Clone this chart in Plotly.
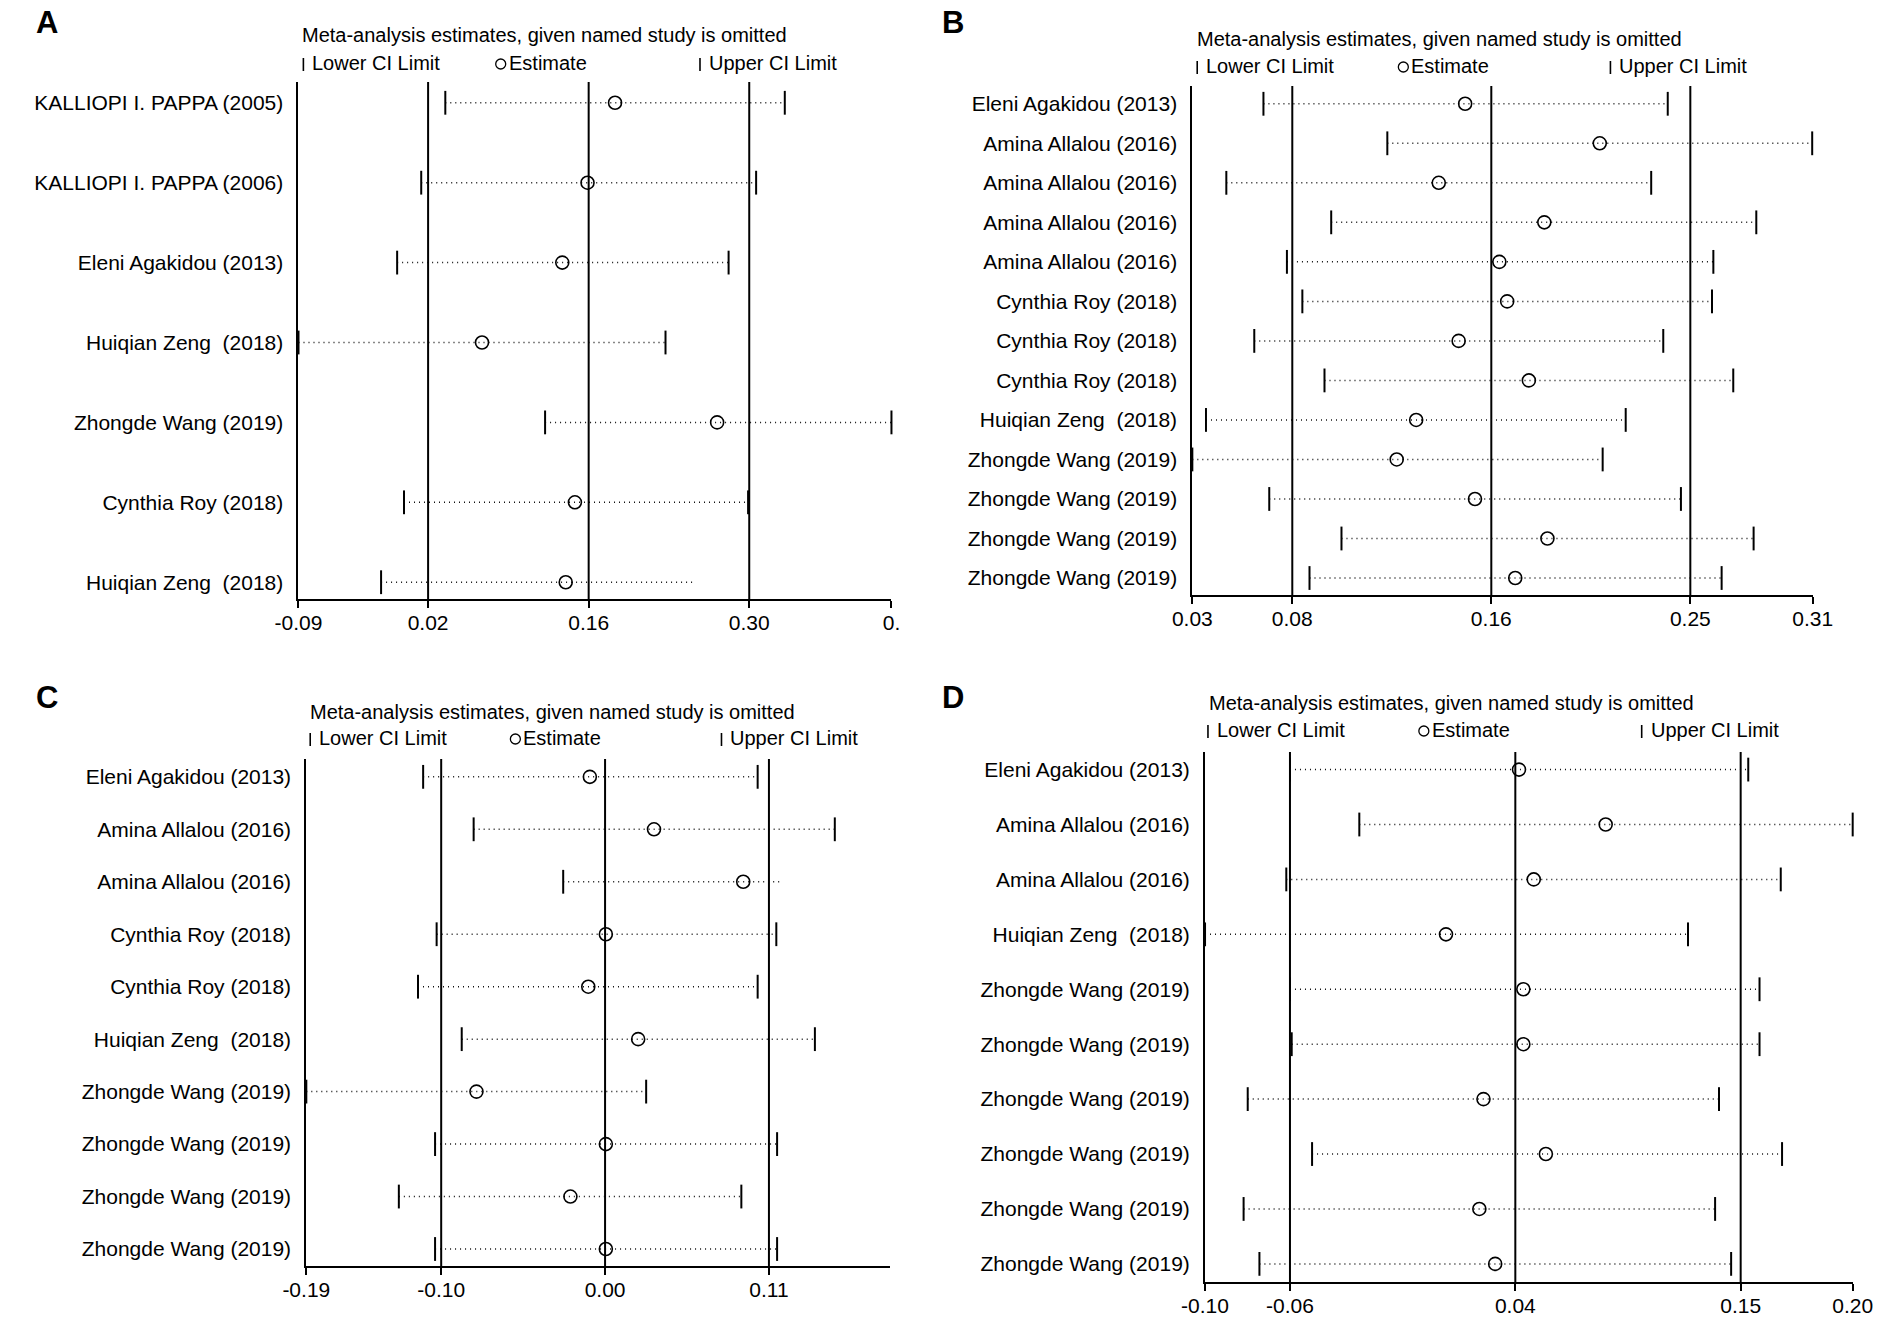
import plotly.graph_objs as go

W = 1902
H = 1321

# ---- panel A ----
a_names = ["KALLIOPI I. PAPPA (2005)", "KALLIOPI I. PAPPA (2006)", "Eleni Agakidou (2013)",
           "Huiqian Zeng\u00a0 (2018)", "Zhongde Wang (2019)", "Cynthia Roy (2018)",
           "Huiqian Zeng\u00a0 (2018)"]
a_lower = [0.035, 0.014, -0.007, -0.093, 0.122, -0.001, -0.021]
a_est = [0.183, 0.159, 0.137, 0.067, 0.272, 0.148, 0.140]
a_upper = [0.331, 0.306, 0.282, 0.227, 0.424, 0.299, 0.252]
a_overall = [0.02, 0.16, 0.30]
a_ticks = [-0.093, 0.02, 0.16, 0.30, 0.424]
a_ticktext = ["-0.09", "0.02", "0.16", "0.30", "0."]

# ---- panel B ----
b_names = ["Eleni Agakidou (2013)"] + ["Amina Allalou (2016)"] * 4 + ["Cynthia Roy (2018)"] * 3 + \
          ["Huiqian Zeng\u00a0 (2018)"] + ["Zhongde Wang (2019)"] * 4
b_lower = [0.0626, 0.118, 0.046, 0.0929, 0.0731, 0.0800, 0.0585, 0.0899, 0.0369, 0.0308, 0.0652, 0.0975, 0.0832]
b_est = [0.1528, 0.213, 0.141, 0.1882, 0.1681, 0.1716, 0.1499, 0.1813, 0.1309, 0.1222, 0.1572, 0.1896, 0.1752]
b_upper = [0.2434, 0.308, 0.236, 0.283, 0.2638, 0.2632, 0.2414, 0.2727, 0.2246, 0.2143, 0.2493, 0.2818, 0.2675]
b_overall = [0.0755, 0.1645, 0.2535]
b_ticks = [0.0308, 0.0755, 0.1645, 0.2535, 0.3082]
b_ticktext = ["0.03", "0.08", "0.16", "0.25", "0.31"]

# ---- panel C ----
c_names = ["Eleni Agakidou (2013)"] + ["Amina Allalou (2016)"] * 2 + ["Cynthia Roy (2018)"] * 2 + \
          ["Huiqian Zeng\u00a0 (2018)"] + ["Zhongde Wang (2019)"] * 4
c_lower = [-0.113, -0.0808, -0.0237, -0.1044, -0.1163, -0.0884, -0.1875, -0.1054, -0.1285, -0.1054]
c_est = [-0.0067, 0.0342, 0.0911, 0.0035, -0.0077, 0.0241, -0.079, 0.0035, -0.0191, 0.0035]
c_upper = [0.1003, 0.1495, 0.116, 0.1122, 0.1003, 0.1368, 0.0292, 0.1127, 0.0899, 0.1127]
c_overall = [-0.1015, 0.003, 0.1075]
c_ticks = [-0.1875, -0.1015, 0.003, 0.1075]
c_ticktext = ["-0.19", "-0.10", "0.00", "0.11"]

# ---- panel D ----
d_names = ["Eleni Agakidou (2013)"] + ["Amina Allalou (2016)"] * 2 + ["Huiqian Zeng\u00a0 (2018)"] + \
          ["Zhongde Wang (2019)"] * 6
d_lower = [-0.0595, -0.0275, -0.0612, -0.0987, -0.0595, -0.0587, -0.079, -0.0493, -0.0809, -0.0736]
d_est = [0.0462, 0.0862, 0.053, 0.0125, 0.0482, 0.0482, 0.0298, 0.0586, 0.0279, 0.0352]
d_upper = [0.152, 0.2002, 0.167, 0.1242, 0.1572, 0.1572, 0.1385, 0.1676, 0.1367, 0.1441]
d_overall = [-0.0595, 0.0445, 0.1485]
d_ticks = [-0.0987, -0.0595, 0.0445, 0.1485, 0.2002]
d_ticktext = ["-0.10", "-0.06", "0.04", "0.15", "0.20"]

FONT = "Liberation Sans, Arial, sans-serif"

fig = go.Figure()
layout_axes = {}
shapes = []
annotations = []


def px_x(x):
    return x / W


def px_y(y):
    return 1 - y / H


def text_at(txt, x, y, size=20, bold=False):
    if bold:
        txt = "<b>%s</b>" % txt
    annotations.append(dict(text=txt, x=px_x(x), y=px_y(y), xref="paper", yref="paper",
                            xanchor="left", yanchor="middle", showarrow=False,
                            font=dict(size=size, family=FONT, color="black")))


def add_panel(n, letter, names, lower, est, upper, overall, ticks, ticktext, xrange,
              box, yrange, head, hidden_upper=()):
    # box = (left, right, top, bottom) in pixels
    xa = "x" if n == 1 else "x%d" % n
    ya = "y" if n == 1 else "y%d" % n
    rows = list(range(1, len(names) + 1))

    seg_x, seg_y = [], []
    for lo, hi, r in zip(lower, upper, rows):
        seg_x += [lo, hi, None]
        seg_y += [r, r, None]
    fig.add_trace(go.Scatter(x=seg_x, y=seg_y, mode="lines", xaxis=xa, yaxis=ya,
                             line=dict(color="#111111", width=1.5, dash="1px,4px"),
                             cliponaxis=False, hoverinfo="skip", showlegend=False))
    fig.add_trace(go.Scatter(x=lower, y=rows, mode="markers", xaxis=xa, yaxis=ya,
                             marker=dict(symbol="line-ns", size=17, line=dict(color="black", width=2)),
                             cliponaxis=False, showlegend=False, name="Lower CI Limit"))
    up_op = [0 if i in hidden_upper else 1 for i in range(len(upper))]
    fig.add_trace(go.Scatter(x=upper, y=rows, mode="markers", xaxis=xa, yaxis=ya,
                             marker=dict(symbol="line-ns", size=17, opacity=up_op,
                                         line=dict(color="black", width=2)),
                             cliponaxis=False, showlegend=False, name="Upper CI Limit"))
    fig.add_trace(go.Scatter(x=est, y=rows, mode="markers", xaxis=xa, yaxis=ya,
                             marker=dict(symbol="circle-open", size=13, color="black",
                                         line=dict(color="black", width=1.6)),
                             cliponaxis=False, showlegend=False, name="Estimate"))

    for v in overall:
        shapes.append(dict(type="line", xref=xa, yref=ya + " domain", x0=v, x1=v, y0=0, y1=1,
                           line=dict(color="black", width=2)))

    left, right, top, bottom = box
    key = "" if n == 1 else str(n)
    layout_axes["xaxis" + key] = dict(
        domain=[px_x(left), px_x(right)], range=xrange, anchor=ya,
        tickvals=ticks, ticktext=ticktext, ticks="outside", ticklen=7, tickwidth=2,
        tickcolor="black", showline=True, linecolor="black", linewidth=2,
        showgrid=False, zeroline=False, ticklabelstandoff=-3,
        tickfont=dict(size=21, color="black", family=FONT))
    layout_axes["yaxis" + key] = dict(
        domain=[px_y(bottom), px_y(top)], range=yrange, anchor=xa,
        tickvals=rows, ticktext=names, ticks="", showline=True, linecolor="black",
        linewidth=2, showgrid=False, zeroline=False, ticklabelstandoff=9,
        tickfont=dict(size=21, color="black", family=FONT))

    # panel letter, header and legend row (legend keys drawn as pixel-sized shapes)
    lx, ly, tx, ty, legy, bar_x, circ_x, up_x = head
    text_at(letter, lx, ly, size=31, bold=True)
    text_at("Meta-analysis estimates, given named study is omitted", tx, ty)
    for kind, x, label in [("bar", bar_x, "Lower CI Limit"), ("circ", circ_x, "Estimate"),
                           ("bar", up_x, "Upper CI Limit")]:
        if kind == "bar":
            shapes.append(dict(type="line", xref="paper", yref="paper", xsizemode="pixel",
                               ysizemode="pixel", xanchor=px_x(x), yanchor=px_y(legy),
                               x0=0, x1=0, y0=-8, y1=5, line=dict(color="black", width=1.6)))
            text_at(label, x + 7, legy)
        else:
            shapes.append(dict(type="circle", xref="paper", yref="paper", xsizemode="pixel",
                               ysizemode="pixel", xanchor=px_x(x), yanchor=px_y(legy + 1),
                               x0=-5, x1=5, y0=-5, y1=5, line=dict(color="black", width=1.3)))
            text_at(label, x + 6, legy)


add_panel(1, "A", a_names, a_lower, a_est, a_upper, a_overall, a_ticks, a_ticktext,
          [a_ticks[0], a_ticks[-1]], (281, 888, 82, 599), [7.21, 0.74],
          (10, 22, 283, 35, 63, 286, 488, 692), hidden_upper=(6,))
add_panel(2, "B", b_names, b_lower, b_est, b_upper, b_overall, b_ticks, b_ticktext,
          [b_ticks[0], b_ticks[-1]], (1196, 1831, 86, 595), [13.43, 0.55],
          (938, 22, 1199, 39, 66, 1201, 1412, 1624))
add_panel(3, "C", c_names, c_lower, c_est, c_upper, c_overall, c_ticks, c_ticktext,
          [-0.1875, 0.185], (289, 887, 759, 1266), [10.324, 0.66],
          (10, 697, 291, 712, 738, 293, 503, 714), hidden_upper=(2,))
add_panel(4, "D", d_names, d_lower, d_est, d_upper, d_overall, d_ticks, d_ticktext,
          [d_ticks[0], d_ticks[-1]], (1209, 1872, 752, 1282), [10.33, 0.68],
          (938, 697, 1211, 703, 730, 1212, 1433, 1656))

fig.update_layout(width=W, height=H, margin=dict(l=0, r=0, t=0, b=0),
                  plot_bgcolor="white", paper_bgcolor="white", showlegend=False,
                  shapes=shapes, annotations=annotations,
                  font=dict(family=FONT, size=20, color="black"), **layout_axes)

fig.write_html("out.html", config={"displayModeBar": False},
               post_script="document.body.style.margin='0';")
